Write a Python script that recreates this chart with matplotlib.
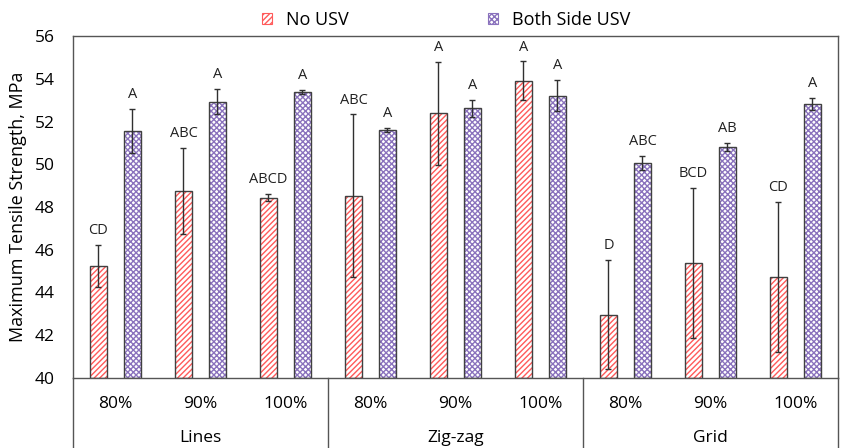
import matplotlib.pyplot as plt
import numpy as np
from matplotlib.patches import Patch

plt.rcParams['font.family'] = ['Open Sans', 'DejaVu Sans']
plt.rcParams['hatch.linewidth'] = 1.0

patterns = ["Lines", "Zig-zag", "Grid"]
infill = ["80%", "90%", "100%"]

no_usv = [45.24, 48.76, 48.44, 48.53, 52.38, 53.91, 42.95, 45.38, 44.72]
no_usv_err = [0.97, 2.0, 0.15, 3.8, 2.4, 0.9, 2.55, 3.5, 3.5]
no_usv_lbl = ["CD", "ABC", "ABCD", "ABC", "A", "A", "D", "BCD", "CD"]

both_usv = [51.57, 52.93, 53.37, 51.6, 52.62, 53.21, 50.04, 50.81, 52.83]
both_usv_err = [1.03, 0.58, 0.1, 0.1, 0.4, 0.73, 0.33, 0.2, 0.28]
both_usv_lbl = ["A", "A", "A", "A", "A", "A", "ABC", "AB", "A"]

red = "#ff5a5a"
purple = "#8a72bd"
edge = "#404040"

fig = plt.figure(figsize=(8.42, 4.48), dpi=100)
ax = fig.add_axes([0.0867, 0.1563, 0.9085, 0.7633])

x = np.arange(len(no_usv))
w = 0.21
off = 0.2

for vals, errs, lbls, col, hatch, dx in [
        (no_usv, no_usv_err, no_usv_lbl, red, "//////", -off),
        (both_usv, both_usv_err, both_usv_lbl, purple, "xxxxxx", off)]:
    h = np.array(vals) - 40
    ax.bar(x + dx, h, w, bottom=40, color="white", edgecolor=col,
           hatch=hatch, linewidth=0, zorder=2)
    ax.bar(x + dx, h, w, bottom=40, fill=False, edgecolor=edge,
           linewidth=1.0, zorder=3)
    ax.errorbar(x + dx, vals, yerr=errs, fmt="none", ecolor="#303030",
                elinewidth=1.0, capsize=2.5, capthick=1.0, zorder=4)
    for xi, v, e, t in zip(x + dx, vals, errs, lbls):
        ax.annotate(t, (xi, v + e), xytext=(0, 5), textcoords="offset points",
                    ha="center", va="bottom", fontsize=10.5, color="#222222")

ax.set_xlim(-0.5, len(no_usv) - 0.5)
ax.set_ylim(40, 56)
ax.set_yticks(range(40, 57, 2))
ax.tick_params(axis="y", length=0, labelsize=12.5, pad=13)
ax.set_xticks([])
ax.set_ylabel("Maximum Tensile Strength, MPa", fontsize=13, labelpad=6)
for s in ax.spines.values():
    s.set_color("#555555")
    s.set_linewidth(1.0)

# two-level category axis
for i, lab in enumerate(infill * len(patterns)):
    ax.text(i, -0.075, lab, transform=ax.get_xaxis_transform(),
            ha="center", va="center", fontsize=12.5)
for g, lab in enumerate(patterns):
    ax.text(g * 3 + 1, -0.175, lab, transform=ax.get_xaxis_transform(),
            ha="center", va="center", fontsize=12.5)
for xb in [-0.5, 2.5, 5.5, 8.5]:
    ax.plot([xb, xb], [0, -0.21], transform=ax.get_xaxis_transform(),
            color="#555555", linewidth=1.0, clip_on=False)

handles = [Patch(facecolor="white", edgecolor=red, hatch="//////", label="No USV"),
           Patch(facecolor="white", edgecolor=purple, hatch="xxxxxx", label="Both Side USV")]
leg = fig.legend(handles=handles, loc="center", bbox_to_anchor=(0.53, 0.955),
                 ncol=2, frameon=False, fontsize=13, handlelength=0.55,
                 handleheight=0.55, columnspacing=7.7, handletextpad=0.8)
for p in leg.get_patches():
    p.set_linewidth(0.8)

fig.savefig("out.png", dpi=100)
